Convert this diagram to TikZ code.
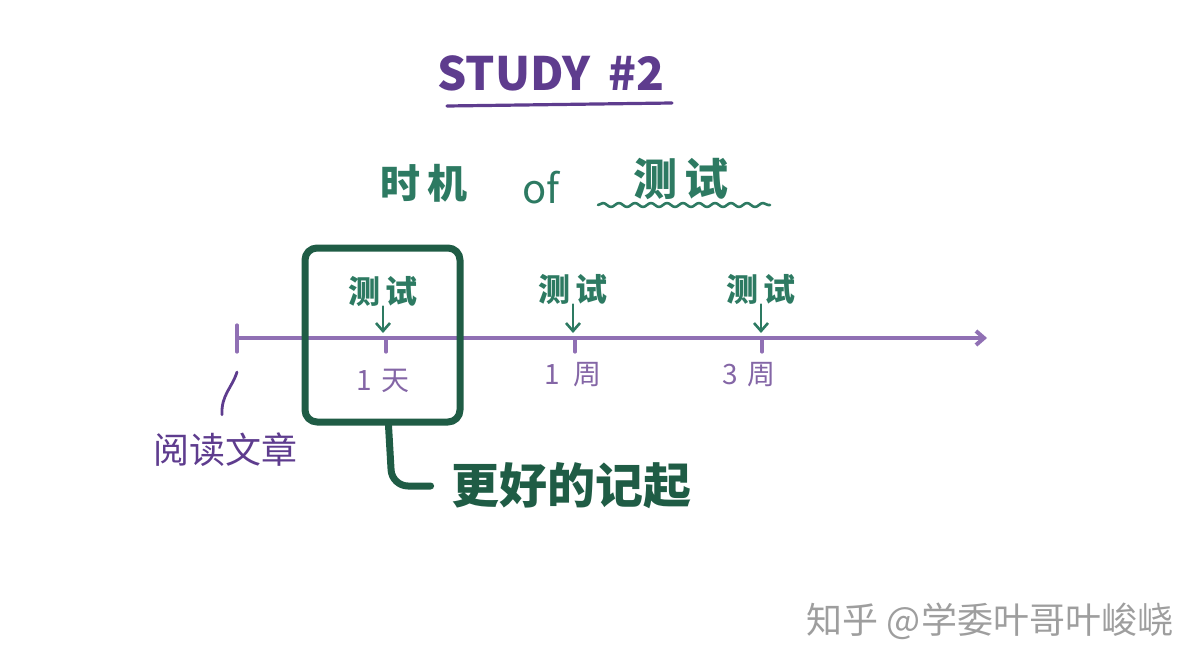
\documentclass[tikz,border=0pt]{standalone}
\usepackage{fontspec}
\newfontfamily\cjk{Noto Sans CJK SC}
\usetikzlibrary{arrows.meta,decorations.pathmorphing,fit}
\definecolor{inkpurple}{HTML}{5E3C8E}
\definecolor{axispurple}{HTML}{9070B4}
\definecolor{labelpurple}{HTML}{8466A6}
\definecolor{inkgreen}{HTML}{2D7A62}
\definecolor{boxgreen}{HTML}{1F5C45}
\tikzset{
  every node/.style={inner sep=0pt},
  testlabel/.style={text=inkgreen, font=\cjk\bfseries\fontsize{16}{16}\selectfont},
  ticklabel/.style={text=labelpurple, font=\cjk\fontsize{14}{14}\selectfont},
  testarrow/.style={->, inkgreen, line width=1.3pt},
}
\begin{document}
\begin{tikzpicture}[x=0.5pt, y=-0.5pt, >={Straight Barb[length=4pt,width=7pt]}, line cap=round, line join=round]
        \useasboundingbox (0,0) rectangle (1203,668);

        % ---- heading ----
        \node[text=inkpurple, font=\cjk\bfseries\fontsize{23}{23}\selectfont] (title) at (551,73) {STUDY\, \#2};
        \draw[inkpurple, line width=1.6pt] (447,106) -- (672,103);

        \node[text=inkgreen, font=\cjk\bfseries\fontsize{20}{20}\selectfont] (timing) at (424,183) {时\,机};
        \node[text=inkgreen, font=\cjk\fontsize{20}{20}\selectfont] (of) at (541,188) {of};
        \node[text=inkgreen, font=\cjk\bfseries\fontsize{22}{22}\selectfont] (testing) at (681,179) {测\,试};
        % wavy underline
        \draw[inkgreen, line width=1.3pt, decorate,
              decoration={snake, segment length=8pt, amplitude=1pt}] (598,205) -- (770,205);

        % ---- the time line ----
        \coordinate (origin) at (237,338);
        \coordinate (tick1) at (386,338);
        \coordinate (tick2) at (575,338);
        \coordinate (tick3) at (762,338);
        \draw[axispurple, line width=2pt, ->] (origin) -- (987,338);
        \draw[axispurple, line width=1.6pt] (237,325) -- (237,352);
        \foreach \t in {tick1,tick2,tick3}
          \draw[axispurple, line width=1.6pt] (\t) -- ++(0,14);

        % ---- tests above the line ----
        \node[testlabel] (test1) at (383,291) {测\,试};
        \node[testlabel] (test2) at (573,289) {测\,试};
        \node[testlabel] (test3) at (761,289) {测\,试};
        \draw[testarrow, shorten >=2.5pt] (test1.south) -- (test1.south |- tick1);
        \draw[testarrow, shorten >=2.5pt] (test2.south) -- (test2.south |- tick2);
        \draw[testarrow, shorten >=2.5pt] (test3.south) -- (test3.south |- tick3);

        % ---- intervals below the line ----
        \node[ticklabel] (day1) at (383,381) {1\,\,天};
        \node[ticklabel] (week1) at (573,375) {1\ \ 周};
        \node[ticklabel] (week3) at (749,375) {3\,\,周};

        % ---- reading the article ----
        \node[text=inkpurple, font=\cjk\fontsize{18}{18}\selectfont] (read) at (225,450) {阅读文章};
        \draw[inkpurple, line width=1.4pt] ([yshift=-17pt]origin)
          .. controls (232,388) and (221,395) .. ([xshift=-1.5pt,yshift=9pt]read.north);

        % ---- the one that helps ----
        \node[draw=boxgreen, line width=3.5pt, rounded corners=6pt, inner sep=0pt,
              fit={(305,248) (460,422)}] (box) {};
        \node[text=boxgreen, font=\cjk\bfseries\fontsize{24}{24}\selectfont] (better) at (571,486) {更好的记起};
        \draw[boxgreen, line width=3.5pt, rounded corners=8pt]
          ([xshift=3pt]box.south) -- (392,486) -- ([xshift=-10pt]better.west);

        % ---- watermark ----
        \node[text=black!38, font=\cjk\fontsize{18}{18}\selectfont] (mark) at (990,621) {知乎 @学委叶哥叶峻峣};
    \end{tikzpicture}
\end{document}
